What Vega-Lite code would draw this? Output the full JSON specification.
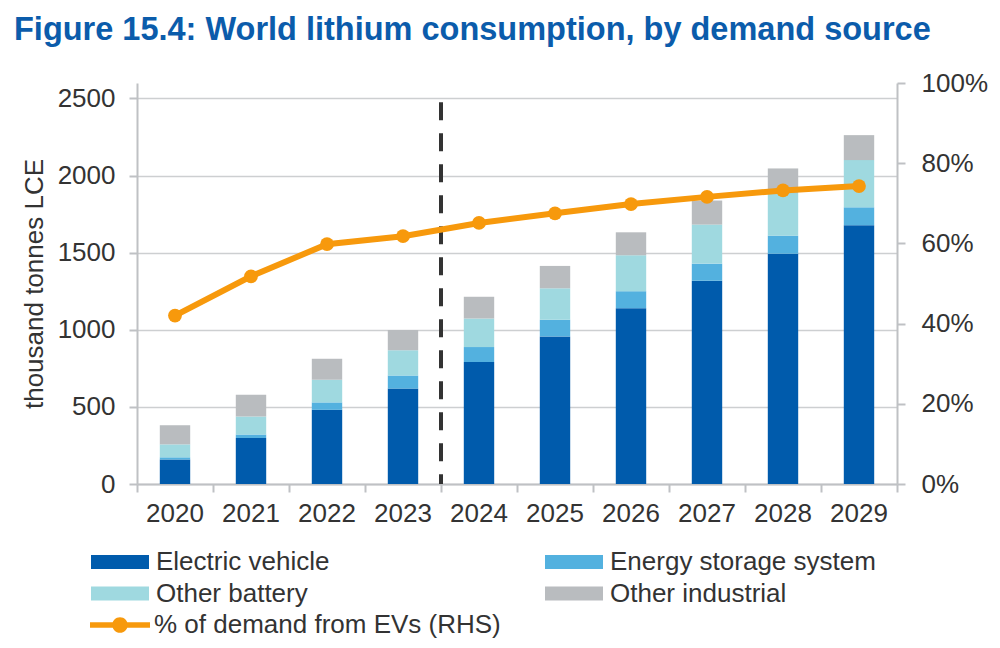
{
  "$schema": "https://vega.github.io/schema/vega-lite/v6.json",
  "width": 760,
  "height": 401,
  "autosize": {"type": "none"},
  "padding": {"left": 137, "top": 83, "right": 103, "bottom": 164},
  "background": "white",
  "title": {
    "text": "Figure 15.4: World lithium consumption, by demand source",
    "anchor": "start",
    "frame": "group",
    "dx": -123,
    "offset": 24,
    "font": "Liberation Sans",
    "fontSize": 32.5,
    "fontWeight": "bold",
    "color": "#0B5CAB"
  },
  "config": {
    "view": {"stroke": null},
    "font": "Liberation Sans",
    "axis": {
      "labelFont": "Liberation Sans",
      "labelFontSize": 26,
      "labelColor": "#333333",
      "titleFont": "Liberation Sans",
      "titleFontSize": 26,
      "titleFontWeight": "normal",
      "titleColor": "#333333",
      "domainColor": "#BFC1C4",
      "domainWidth": 2,
      "tickColor": "#BFC1C4",
      "tickWidth": 2,
      "tickSize": 8,
      "gridColor": "#CDCFD1",
      "gridWidth": 1.5
    },
    "legend": {
      "labelFont": "Liberation Sans",
      "labelFontSize": 26,
      "labelColor": "#333333",
      "labelLimit": 500,
      "padding": 0
    }
  },
  "datasets": {
    "demand": [
      {"year": "2020", "source": "Electric vehicle", "value": 159},
      {"year": "2020", "source": "Energy storage system", "value": 14},
      {"year": "2020", "source": "Other battery", "value": 84},
      {"year": "2020", "source": "Other industrial", "value": 124},
      {"year": "2021", "source": "Electric vehicle", "value": 298},
      {"year": "2021", "source": "Energy storage system", "value": 23},
      {"year": "2021", "source": "Other battery", "value": 116},
      {"year": "2021", "source": "Other industrial", "value": 142},
      {"year": "2022", "source": "Electric vehicle", "value": 481},
      {"year": "2022", "source": "Energy storage system", "value": 48},
      {"year": "2022", "source": "Other battery", "value": 147},
      {"year": "2022", "source": "Other industrial", "value": 136},
      {"year": "2023", "source": "Electric vehicle", "value": 620},
      {"year": "2023", "source": "Energy storage system", "value": 83},
      {"year": "2023", "source": "Other battery", "value": 165},
      {"year": "2023", "source": "Other industrial", "value": 131},
      {"year": "2024", "source": "Electric vehicle", "value": 791},
      {"year": "2024", "source": "Energy storage system", "value": 97},
      {"year": "2024", "source": "Other battery", "value": 185},
      {"year": "2024", "source": "Other industrial", "value": 141},
      {"year": "2025", "source": "Electric vehicle", "value": 957},
      {"year": "2025", "source": "Energy storage system", "value": 108},
      {"year": "2025", "source": "Other battery", "value": 204},
      {"year": "2025", "source": "Other industrial", "value": 145},
      {"year": "2026", "source": "Electric vehicle", "value": 1140},
      {"year": "2026", "source": "Energy storage system", "value": 110},
      {"year": "2026", "source": "Other battery", "value": 233},
      {"year": "2026", "source": "Other industrial", "value": 149},
      {"year": "2027", "source": "Electric vehicle", "value": 1318},
      {"year": "2027", "source": "Energy storage system", "value": 111},
      {"year": "2027", "source": "Other battery", "value": 253},
      {"year": "2027", "source": "Other industrial", "value": 156},
      {"year": "2028", "source": "Electric vehicle", "value": 1493},
      {"year": "2028", "source": "Energy storage system", "value": 117},
      {"year": "2028", "source": "Other battery", "value": 276},
      {"year": "2028", "source": "Other industrial", "value": 160},
      {"year": "2029", "source": "Electric vehicle", "value": 1678},
      {"year": "2029", "source": "Energy storage system", "value": 116},
      {"year": "2029", "source": "Other battery", "value": 306},
      {"year": "2029", "source": "Other industrial", "value": 162}
    ],
    "share": [
      {"year": "2020", "pct": 0.42},
      {"year": "2021", "pct": 0.518},
      {"year": "2022", "pct": 0.598},
      {"year": "2023", "pct": 0.618},
      {"year": "2024", "pct": 0.651},
      {"year": "2025", "pct": 0.675},
      {"year": "2026", "pct": 0.698},
      {"year": "2027", "pct": 0.716},
      {"year": "2028", "pct": 0.732},
      {"year": "2029", "pct": 0.743}
    ]
  },
  "encoding": {
    "x": {
      "field": "year",
      "type": "ordinal",
      "scale": {"paddingInner": 0, "paddingOuter": 0},
      "axis": {
        "title": null,
        "labelAngle": 0,
        "bandPosition": 1,
        "tickExtra": true,
        "labelPadding": 8,
        "grid": false
      }
    }
  },
  "layer": [
    {
      "layer": [
        {
          "data": {"name": "demand"},
          "mark": {"type": "bar", "width": {"band": 0.4}},
          "encoding": {
            "y": {
              "field": "value",
              "type": "quantitative",
              "stack": "zero",
              "scale": {"domain": [0, 2500]},
              "axis": {
                "title": "thousand tonnes LCE",
                "values": [0, 500, 1000, 1500, 2000, 2500],
                "format": "d",
                "labelPadding": 14,
                "titlePadding": 10,
                "grid": true
              }
            },
            "order": {"field": "source", "sort": "ascending"},
            "fill": {
              "field": "source",
              "type": "nominal",
              "scale": {
                "domain": ["Electric vehicle", "Energy storage system", "Other battery", "Other industrial"],
                "range": ["#005BAC", "#53B1DF", "#9FD9E0", "#B9BCBF"]
              },
              "legend": {
                "title": null,
                "orient": "none",
                "direction": "horizontal",
                "legendX": -46,
                "legendY": 464,
                "columns": 2,
                "columnPadding": 215,
                "rowPadding": 1.5,
                "clipHeight": 30,
                "symbolType": "M-1,-0.24H1V0.24H-1Z",
                "symbolSize": 3364,
                "symbolStrokeWidth": 0,
                "symbolOffset": 0,
                "labelOffset": 7
              }
            }
          }
        },
        {
          "data": {"values": [{}]},
          "mark": {"type": "rule", "color": "#333333", "strokeWidth": 4, "strokeDash": [18, 13]},
          "encoding": {
            "x": {"datum": "2024", "type": "ordinal", "bandPosition": 0},
            "y": {"datum": 2475, "type": "quantitative"},
            "y2": {"datum": 0}
          }
        }
      ]
    },
    {
      "layer": [
        {
          "data": {"name": "share"},
          "mark": {"type": "line", "strokeWidth": 6},
          "encoding": {
            "y": {
              "field": "pct",
              "type": "quantitative",
              "scale": {"domain": [0, 1]},
              "axis": {
                "orient": "right",
                "title": null,
                "values": [0, 0.2, 0.4, 0.6, 0.8, 1],
                "format": ".0%",
                "labelPadding": 16,
                "grid": false
              }
            },
            "stroke": {
              "datum": "% of demand from EVs (RHS)",
              "type": "nominal",
              "scale": {"domain": ["% of demand from EVs (RHS)"], "range": ["#F7990C"]},
              "legend": {
                "title": null,
                "orient": "none",
                "legendX": -47,
                "legendY": 527,
                "clipHeight": 30,
                "symbolType": "M-1,-0.09H1V0.09H-1ZM0.26,0A0.26,0.26,0,1,1,-0.26,0A0.26,0.26,0,1,1,0.26,0Z",
                "symbolSize": 3600,
                "symbolStrokeWidth": 0,
                "symbolOffset": 0,
                "labelOffset": 4,
                "encode": {
                  "symbols": {
                    "update": {
                      "fill": {"value": "#F7990C"},
                      "stroke": {"value": "transparent"},
                      "strokeWidth": {"value": 0}
                    }
                  }
                }
              }
            }
          }
        },
        {
          "data": {"name": "share"},
          "mark": {"type": "point", "filled": true, "size": 190, "opacity": 1, "color": "#F7990C"},
          "encoding": {
            "y": {"field": "pct", "type": "quantitative"}
          }
        }
      ]
    }
  ],
  "resolve": {"scale": {"y": "independent"}}
}
